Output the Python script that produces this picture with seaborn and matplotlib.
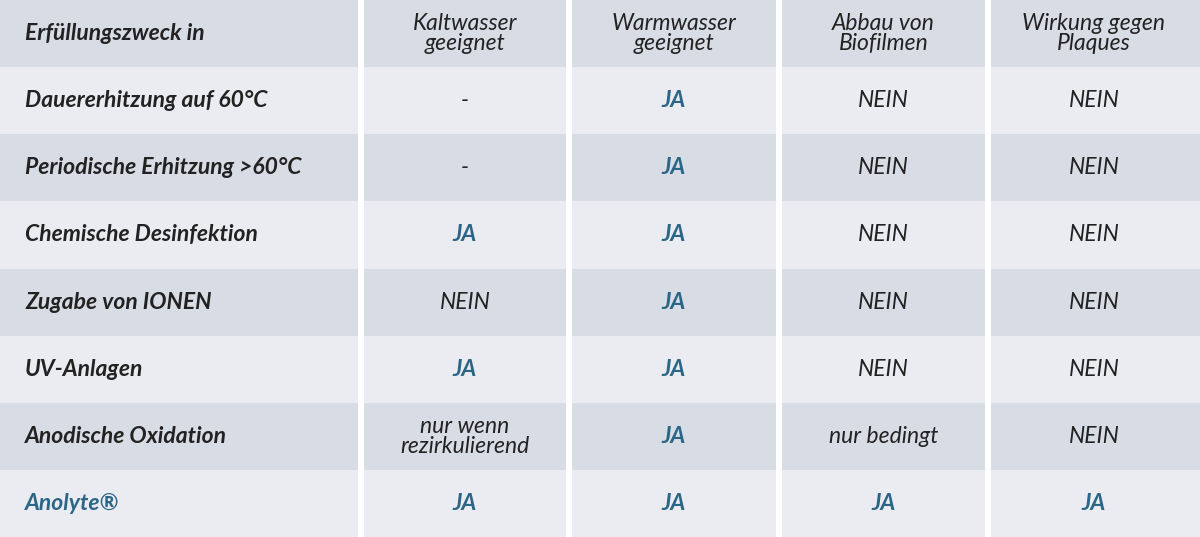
import matplotlib
matplotlib.use("Agg")
import matplotlib.pyplot as plt
import seaborn as sns
import numpy as np
from matplotlib.colors import ListedColormap

header = ["Erfüllungszweck in", "Kaltwasser\ngeeignet", "Warmwasser\ngeeignet", "Abbau von\nBiofilmen", "Wirkung gegen\nPlaques"]
rows = ["Dauererhitzung auf 60°C", "Periodische Erhitzung >60°C", "Chemische Desinfektion",
        "Zugabe von IONEN", "UV-Anlagen", "Anodische Oxidation", "Anolyte®"]
kalt = ["-", "-", "JA", "NEIN", "JA", "nur wenn\nrezirkulierend", "JA"]
warm = ["JA", "JA", "JA", "JA", "JA", "JA", "JA"]
bio = ["NEIN", "NEIN", "NEIN", "NEIN", "NEIN", "nur bedingt", "JA"]
plaq = ["NEIN", "NEIN", "NEIN", "NEIN", "NEIN", "NEIN", "JA"]

blue = "#2b6686"
dark = "#222222"
col_edges = [0, 361, 569, 779, 988, 1200]

sns.set_theme(style="white")
plt.rcParams['font.family'] = ['Lato', 'DejaVu Sans']

nrows = len(rows) + 1
shade = np.array([[(i + 1) % 2] * 1200 for i in range(nrows)], dtype=float)

fig = plt.figure(figsize=(12, 5.37), dpi=100)
ax = fig.add_axes([0, 0, 1, 1])
sns.heatmap(shade, cmap=ListedColormap(["#ebecf1", "#d8dce5"]), cbar=False, ax=ax,
            xticklabels=False, yticklabels=False)
ax.set_xlim(0, 1200)
ax.set_ylim(nrows, 0)
for x in col_edges[1:-1]:
    ax.axvline(x, color="white", lw=6 * 0.72)

centers = [(col_edges[i] + col_edges[i + 1]) / 2 for i in range(5)]
fs = 16.5
ax.text(25, 0.5, header[0], ha="left", va="center", fontsize=fs, style="italic", weight="bold", color=dark)
for j in range(1, 5):
    ax.text(centers[j], 0.5, header[j], ha="center", va="center", fontsize=fs, style="italic",
            color=dark, linespacing=0.95)

cols = [kalt, warm, bio, plaq]
for i, r in enumerate(rows):
    y = i + 1.5
    last = i == len(rows) - 1
    ax.text(25, y, r, ha="left", va="center", fontsize=fs, style="italic", weight="bold",
            color=blue if last else dark)
    for j, c in enumerate(cols):
        v = c[i]
        isja = v == "JA"
        ax.text(centers[j + 1], y, v, ha="center", va="center", fontsize=fs, style="italic",
                weight="bold" if isja else "normal", color=blue if isja else dark, linespacing=0.95)

ax.axis("off")
fig.savefig("out.png", dpi=100)
